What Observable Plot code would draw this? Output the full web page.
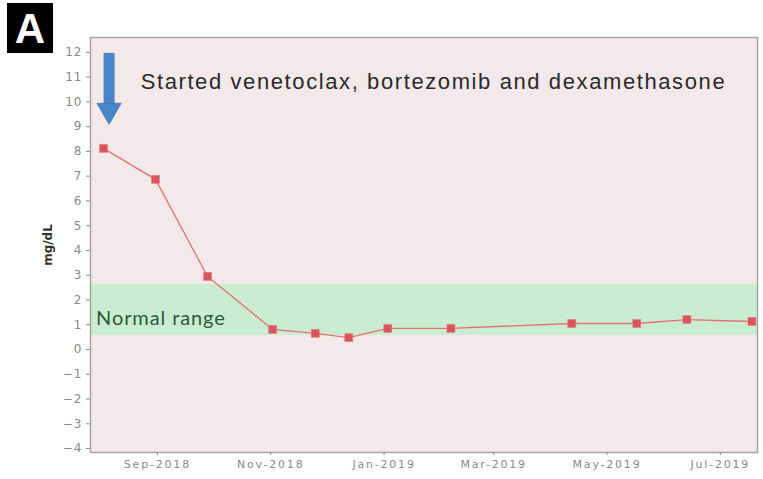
<!DOCTYPE html>
<html>
<head>
<meta charset="utf-8">
<script src="https://cdn.jsdelivr.net/npm/d3@7"></script>
<script src="https://cdn.jsdelivr.net/npm/@observablehq/plot@0.6"></script>
<style>
  html, body { margin: 0; padding: 0; background: #fff; }
  #wrap { position: relative; width: 763px; height: 479px; }
  #panel { position: absolute; left: 7px; top: 3px; width: 46px; height: 50px; background: #000;
    color: #fff; font: bold 42px "Liberation Sans", Arial, sans-serif; text-align: center; line-height: 52px; }
</style>
</head>
<body>
<div id="wrap"><div id="panel">A</div></div>
<script>
// Series: free light chain level (mg/dL) by date
const dates = ["2018-08-03","2018-08-31","2018-09-28","2018-11-02","2018-11-25","2018-12-13",
               "2019-01-03","2019-02-06","2019-04-12","2019-05-17","2019-06-13","2019-07-18"];
const values = [8.12, 6.87, 2.95, 0.81, 0.65, 0.48, 0.85, 0.85, 1.05, 1.05, 1.21, 1.13];

// Normal range band
const normalLow = [0.57];
const normalHigh = [2.63];

// Axis domains / ticks
const xDomain = ["2018-07-27", "2019-07-21"];
const yTicks = d3.range(-4, 13);

// Annotations
const noteText = ["Started venetoclax, bortezomib and dexamethasone"];
const noteDate = ["2018-08-23"];
const noteValue = [10.8];
const bandLabel = ["Normal range"];
const bandLabelDate = ["2018-07-30"];
const bandLabelValue = [1.25];
const arrowDate = ["2018-08-06"];
const arrowTop = [11.96];
const arrowShaftEnd = [9.85];
const arrowHeadCenter = [9.66];

const parse = d3.utcParse("%Y-%m-%d");
const data = dates.map((d, i) => ({date: parse(d), value: values[i]}));
const band = normalLow.map((lo, i) => ({lo, hi: normalHigh[i]}));

const chart = Plot.plot({
  width: 763,
  height: 479,
  marginLeft: 90,
  marginRight: 6,
  marginTop: 37,
  marginBottom: 27,
  style: {background: "transparent", fontFamily: "'DejaVu Sans', sans-serif"},
  x: {type: "utc", domain: xDomain.map(parse), label: null},
  y: {domain: [-4.16, 12.6], label: "mg/dL"},
  marks: [
    Plot.frame({fill: "#f3e8ea"}),
    Plot.rect(band, {y1: "lo", y2: "hi", fill: "#caedd2"}),
    Plot.frame({stroke: "#a5a5a5", strokeWidth: 1.5}),
    Plot.axisX({ticks: d3.utcMonth.every(2), tickFormat: "%b-%Y", tickSize: 3, tickPadding: 5, fontSize: 11, color: "#8a8a8a", label: null}),
    Plot.axisY({ticks: yTicks, tickSize: 4, tickPadding: 4, fontSize: 12, color: "#8a8a8a",
      label: "mg/dL", labelAnchor: "center", labelArrow: "none", labelOffset: 47}),
    Plot.line(data, {x: "date", y: "value", stroke: "#e4706c", strokeWidth: 1.3}),
    Plot.dot(data, {x: "date", y: "value", symbol: "square", r: 4.5, fill: "#d9535d", stroke: "#e87a80", strokeWidth: 0.6}),
    Plot.ruleX(arrowDate.map((d, i) => ({date: parse(d), top: arrowTop[i], end: arrowShaftEnd[i]})),
      {x: "date", y1: "top", y2: "end", stroke: "#4a86c7", strokeWidth: 11}),
    Plot.dot(arrowDate.map((d, i) => ({date: parse(d), v: arrowHeadCenter[i]})),
      {x: "date", y: "v", symbol: "triangle", rotate: 180, r: 9, fill: "#4a86c7", stroke: "#3f76b0", strokeWidth: 0.8}),
    Plot.text(noteText.map((t, i) => ({t, date: parse(noteDate[i]), v: noteValue[i]})),
      {x: "date", y: "v", text: "t", textAnchor: "start", fontSize: 22, fill: "#2a2a2a", fontFamily: "'Liberation Sans', Arial, sans-serif"}),
    Plot.text(bandLabel.map((t, i) => ({t, date: parse(bandLabelDate[i]), v: bandLabelValue[i]})),
      {x: "date", y: "v", text: "t", textAnchor: "start", fontSize: 20, fill: "#2c5a36", fontFamily: "Lato, sans-serif"})
  ]
});
document.getElementById("wrap").prepend(chart);
chart.style.position = "absolute";
chart.style.left = "0";
chart.style.top = "0";
const svg = d3.select(chart);
svg.selectAll("[aria-label='y-axis label'] text, [aria-label='y-axis label']")
  .attr("fill", "#333").style("font-weight", "bold").style("font-size", "12px");
svg.selectAll("[aria-label='x-axis tick label'] text").style("letter-spacing", "1.8px");
svg.selectAll("[aria-label='y-axis tick label'] text").style("letter-spacing", "1px");
svg.selectAll("[aria-label='text'] text").each(function() {
  const t = d3.select(this).text();
  if (t === noteText[0]) d3.select(this).style("letter-spacing", "1.6px");
  if (t === bandLabel[0]) d3.select(this).style("letter-spacing", "0.9px");
});
</script>
</body>
</html>
